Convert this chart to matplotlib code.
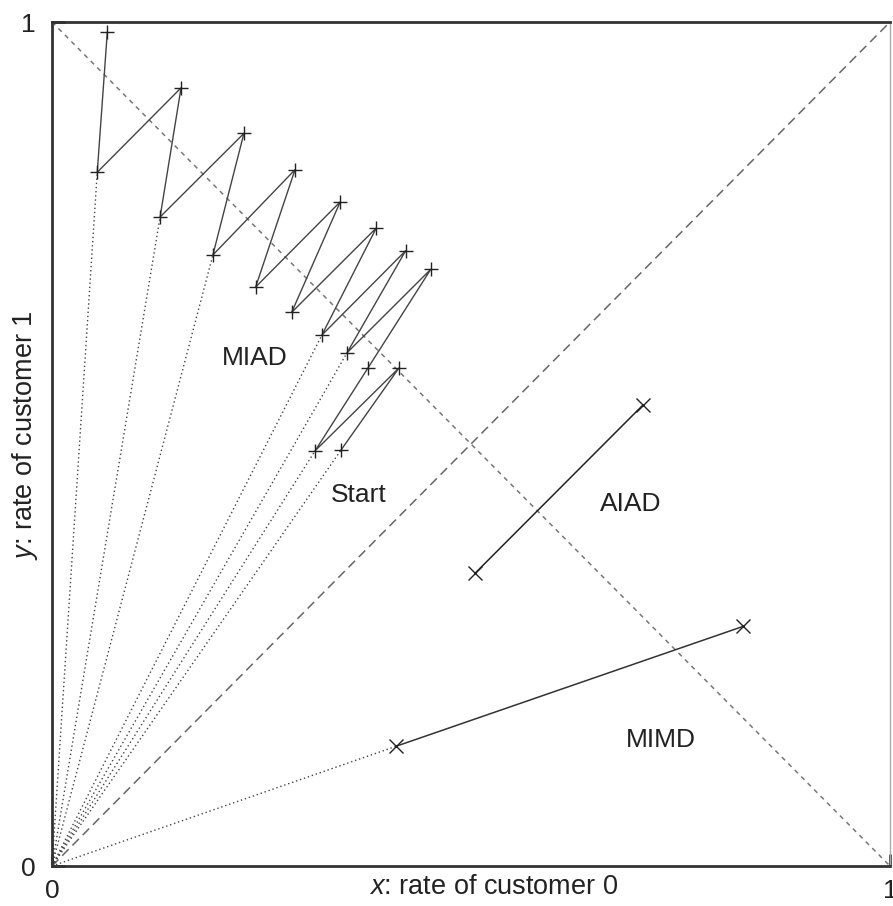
'''
    Fairness / efficiency phase plot for two customers
'''
import matplotlib
matplotlib.use('Agg')
from matplotlib import pyplot as plt

plt.rcParams['font.family'] = ['Liberation Sans', 'DejaVu Sans']
plt.rcParams['mathtext.fontset'] = 'custom'
plt.rcParams['mathtext.it'] = 'Liberation Sans:italic'
plt.rcParams['mathtext.rm'] = 'Liberation Sans'

# MIAD trajectory, starting point first
miad_x = [0.345, 0.414, 0.314, 0.377, 0.452, 0.352, 0.422, 0.322, 0.387, 0.286,
          0.344, 0.243, 0.290, 0.192, 0.229, 0.129, 0.154, 0.054, 0.066]
miad_y = [0.493, 0.590, 0.492, 0.590, 0.707, 0.608, 0.729, 0.629, 0.756, 0.656,
          0.787, 0.686, 0.825, 0.724, 0.868, 0.769, 0.922, 0.822, 0.988]
# points that get a dotted ray from the origin
ray_x = [0.054, 0.129, 0.192, 0.322, 0.352, 0.314, 0.345, 0.411]
ray_y = [0.822, 0.769, 0.724, 0.629, 0.608, 0.492, 0.493, 0.142]
# AIAD and MIMD segments
aiad_x = [0.505, 0.705]
aiad_y = [0.347, 0.546]
mimd_x = [0.411, 0.825]
mimd_y = [0.142, 0.284]
# region labels
labels = ['MIAD', 'Start', 'AIAD', 'MIMD']
label_x = [0.242, 0.366, 0.690, 0.727]
label_y = [0.602, 0.439, 0.429, 0.149]

fig = plt.figure(figsize=(8.93, 9.06), dpi=100)
ax = fig.add_axes([52 / 893, 40 / 906, 838 / 893, 844 / 906])
ax.set_xlim(0, 1)
ax.set_ylim(0, 1)

# efficiency line and fairness line
ax.plot([0, 1], [1, 0], color='#777777', lw=1.1, linestyle=(0, (3, 3)))
ax.plot([0, 1], [0, 1], color='#666666', lw=1.1, linestyle=(0, (6, 3.5)))

# dotted rays from the origin
for i in range(len(ray_x)):
  ax.plot([0, ray_x[i]], [0, ray_y[i]], color='#444444', lw=1, linestyle=(0, (1, 2)))

# trajectories
ax.plot(miad_x, miad_y, color='#444444', lw=1, marker='+', markersize=10,
        markeredgecolor='#222222', markeredgewidth=1)
ax.plot(aiad_x, aiad_y, color='#222222', lw=1.1, marker='x', markersize=10,
        markeredgecolor='#222222', markeredgewidth=1)
ax.plot(mimd_x, mimd_y, color='#333333', lw=1.1, marker='x', markersize=10,
        markeredgecolor='#222222', markeredgewidth=1)

for i in range(len(labels)):
  ax.text(label_x[i], label_y[i], labels[i], fontsize=19, color='#222222',
          ha='center', va='center')

# frame: dark left/top/bottom, light right
for side in ['left', 'top', 'bottom']:
  ax.spines[side].set_color('#333333')
  ax.spines[side].set_linewidth(2)
ax.spines['right'].set_color('#aaaaaa')
ax.spines['right'].set_linewidth(1)

ax.set_xticks([0, 1])
ax.set_xticklabels(['0', '1'])
ax.set_yticks([0, 1])
ax.set_yticklabels(['0', '1'])
ax.tick_params(direction='in', length=9, width=2, color='#333333',
               labelsize=19, labelcolor='#222222')
ax.tick_params(axis='x', pad=9)
ax.tick_params(axis='y', pad=12)

ax.set_xlabel('$\\it{x}$: rate of customer 0', fontsize=19.5, color='#222222')
ax.set_ylabel('$\\it{y}$: rate of customer 1', fontsize=19.5, color='#222222')
ax.xaxis.set_label_coords(0.527, -0.009)
ax.yaxis.set_label_coords(-0.014, 0.51)

plt.savefig('out.png', dpi=100)
